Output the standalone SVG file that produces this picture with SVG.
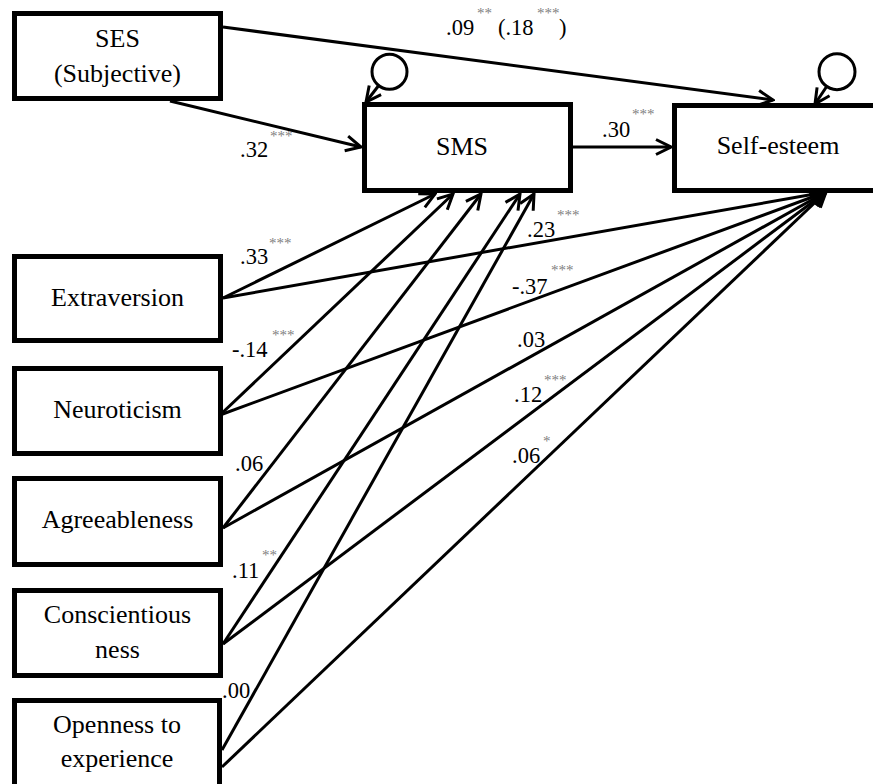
<svg xmlns="http://www.w3.org/2000/svg" width="873" height="784" viewBox="0 0 873 784">
<defs>
<style>
text{font-family:'Liberation Serif','Times New Roman',serif}
.box{fill:#fff;stroke:#000;stroke-width:5}
.lbl{font-size:26px;fill:#000;text-anchor:middle}
.coef{font-size:22.5px;fill:#000}
.sig{font-size:15px;fill:#808080}
.edge{fill:none;stroke:#000;stroke-width:3;marker-end:url(#arr)}
.loop{fill:none;stroke:#000;stroke-width:3}
</style>
<marker id="arr" markerUnits="userSpaceOnUse" viewBox="-16 -9 18 18" refX="0" refY="0" markerWidth="18" markerHeight="18" orient="auto">
<path d="M-15,-7.5 L0,0 L-15,7.5" fill="none" stroke="#000" stroke-width="3"/>
</marker>
</defs>
<rect width="873" height="784" fill="#fff"/>

<g id="connectors">
<path class="edge" d="M223,27 L773,100"/>
<path class="edge" d="M170,101 L361,147"/>
<path class="edge" d="M573,147 L671,147"/>
<path class="edge" d="M378.7,85.5 L366,102"/>
<path class="edge" d="M827,86 L815,104"/>
<path class="edge" d="M223,298 L435,194"/>
<path class="edge" d="M220,415 L453,194"/>
<path class="edge" d="M223,528 L481,194"/>
<path class="edge" d="M223,644 L520,194"/>
<path class="edge" d="M222,750 L534,194"/>
<path class="edge" d="M223,298 L826,192"/>
<path class="edge" d="M220,415 L826,192"/>
<path class="edge" d="M223,528 L826,192"/>
<path class="edge" d="M223,644 L826,192"/>
<path class="edge" d="M222,767 L826,192"/>
</g>

<g id="sms-residual"><circle class="loop" cx="389.5" cy="71.7" r="17.5"/></g>
<g id="se-residual"><circle class="loop" cx="837" cy="71.7" r="18"/></g>

<g id="ses">
<rect class="box" x="14.5" y="13.5" width="206" height="85"/>
<text class="lbl" x="117.5" y="47">SES</text>
<text class="lbl" x="117.5" y="81.5">(Subjective)</text>
</g>
<g id="sms">
<rect class="box" x="364.5" y="104.5" width="206" height="86"/>
<text class="lbl" x="462" y="155">SMS</text>
</g>
<g id="self-esteem">
<rect class="box" x="674.5" y="105.5" width="212" height="85"/>
<text class="lbl" x="778" y="154">Self-esteem</text>
</g>
<g id="extraversion">
<rect class="box" x="14.5" y="256.5" width="206" height="84"/>
<text class="lbl" x="117.5" y="306">Extraversion</text>
</g>
<g id="neuroticism">
<rect class="box" x="14.5" y="368.5" width="206" height="85"/>
<text class="lbl" x="117.5" y="418">Neuroticism</text>
</g>
<g id="agreeableness">
<rect class="box" x="14.5" y="478.5" width="206" height="86"/>
<text class="lbl" x="117.5" y="528">Agreeableness</text>
</g>
<g id="conscientiousness">
<rect class="box" x="14.5" y="590.5" width="206" height="85"/>
<text class="lbl" x="117.5" y="623">Conscientious</text>
<text class="lbl" x="117.5" y="658">ness</text>
</g>
<g id="openness">
<rect class="box" x="14.5" y="700.5" width="205" height="100"/>
<text class="lbl" x="117" y="733">Openness to</text>
<text class="lbl" x="117" y="767">experience</text>
</g>

<g id="labels">
<text class="coef" x="446" y="35">.09</text><text class="sig" x="477" y="18">**</text>
<text class="coef" x="498" y="35">(.18</text><text class="sig" x="537" y="18">***</text><text class="coef" x="559" y="35">)</text>
<text class="coef" x="240" y="157">.32</text><text class="sig" x="270" y="141">***</text>
<text class="coef" x="602" y="137">.30</text><text class="sig" x="632" y="119">***</text>
<text class="coef" x="527" y="237">.23</text><text class="sig" x="557" y="220">***</text>
<text class="coef" x="512" y="294">-.37</text><text class="sig" x="551" y="275">***</text>
<text class="coef" x="517" y="347">.03</text>
<text class="coef" x="514" y="402">.12</text><text class="sig" x="544" y="385">***</text>
<text class="coef" x="512" y="463">.06</text><text class="sig" x="543" y="446">*</text>
<text class="coef" x="240" y="264">.33</text><text class="sig" x="269" y="248">***</text>
<text class="coef" x="232" y="357">-.14</text><text class="sig" x="272" y="340">***</text>
<text class="coef" x="235" y="471">.06</text>
<text class="coef" x="232" y="578">.11</text><text class="sig" x="262" y="560">**</text>
<text class="coef" x="222" y="698">.00</text>
</g>
</svg>
